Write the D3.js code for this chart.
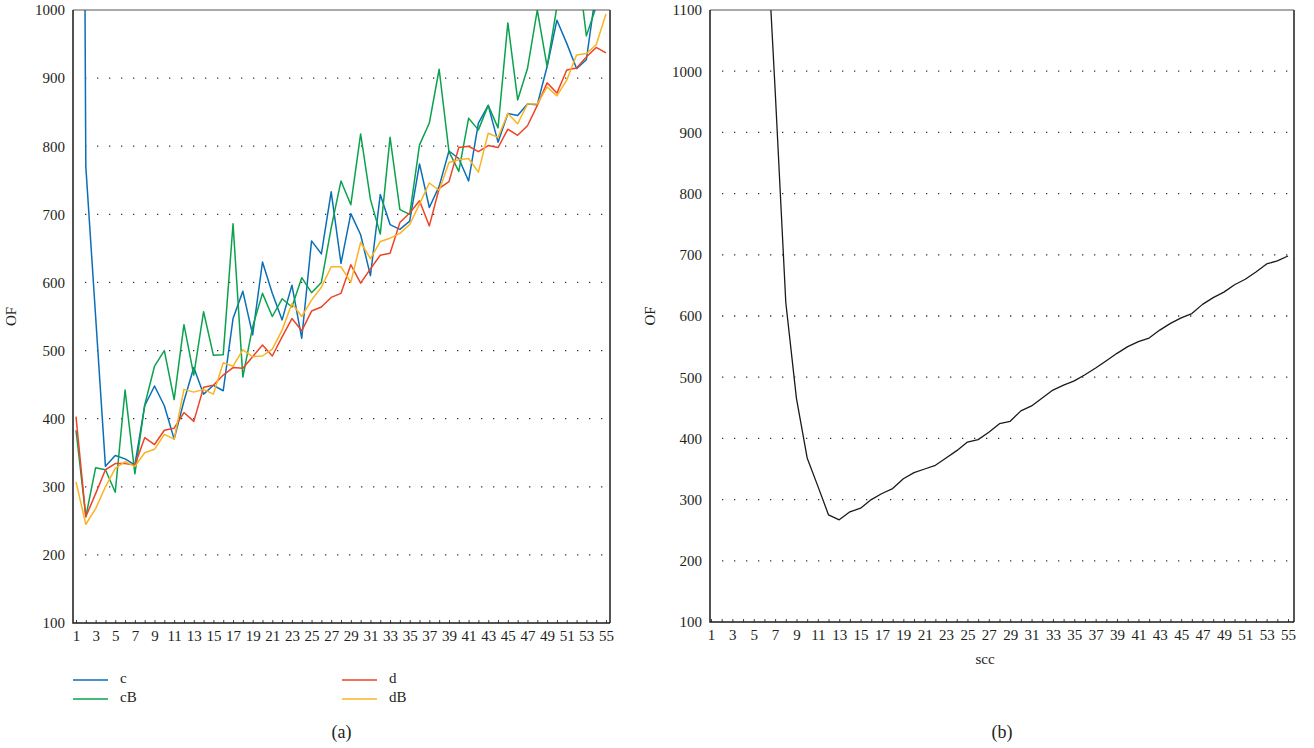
<!DOCTYPE html>
<html>
<head>
<meta charset="utf-8">
<script src="https://cdn.jsdelivr.net/npm/d3@7"></script>
<style>
body { margin: 0; background: #fff; }
text { font-family: "Liberation Serif", "DejaVu Serif", serif; fill: #231f20; }
</style>
</head>
<body>
<svg id="fig" width="1314" height="748"></svg>
<script>
// x categories (scc), shared by both panels
var scc = [1, 2, 3, 4, 5, 6, 7, 8, 9, 10, 11, 12, 13, 14, 15, 16, 17, 18, 19, 20,
	21, 22, 23, 24, 25, 26, 27, 28, 29, 30, 31, 32, 33, 34, 35, 36, 37, 38, 39, 40,
	41, 42, 43, 44, 45, 46, 47, 48, 49, 50, 51, 52, 53, 54, 55]

// panel (a) series, OF values
var c = [3600, 770, 550, 330, 346, 341, 332, 419, 448, 419, 370, 426, 475, 436, 449, 441, 547, 587, 523, 630,
	584, 545, 596, 518, 661, 642, 733, 628, 701, 670, 610, 729, 685, 678, 690, 774, 710, 741, 793, 782,
	749, 834, 860, 806, 848, 845, 862, 861, 917, 985, 951, 914, 927, 1030, 1070]
var cB = [383, 256, 328, 325, 292, 442, 319, 420, 477, 500, 428, 538, 464, 557, 493, 494, 686, 461, 535, 584,
	550, 576, 564, 607, 585, 600, 680, 749, 714, 818, 722, 671, 813, 707, 700, 802, 834, 913, 792, 763,
	841, 824, 860, 827, 981, 868, 914, 1000, 917, 1005, 1040, 1080, 962, 1005, 1040]
var d = [403, 256, 290, 325, 334, 334, 332, 372, 362, 383, 386, 409, 396, 446, 449, 464, 475, 474, 491, 508,
	492, 520, 547, 529, 558, 564, 578, 584, 626, 599, 620, 640, 643, 688, 702, 720, 683, 738, 748, 798,
	800, 792, 801, 798, 825, 816, 830, 860, 893, 878, 912, 915, 931, 945, 937]
var dB = [307, 245, 268, 300, 327, 337, 330, 350, 355, 377, 370, 443, 439, 443, 436, 482, 477, 501, 491, 492,
	502, 530, 569, 550, 574, 593, 623, 623, 600, 659, 635, 660, 665, 672, 685, 715, 746, 735, 776, 780,
	782, 762, 819, 813, 848, 833, 862, 862, 887, 874, 897, 934, 936, 949, 994]

// panel (b) series
var of = [4200, 3300, 2500, 2000, 1600, 1300, 970, 622, 465, 368, 322, 275, 267, 280, 286, 300, 310, 318, 334, 344,
	350, 356, 368, 380, 394, 398, 410, 424, 428, 445, 453, 466, 479, 487, 494, 504, 515, 527, 539, 550,
	558, 564, 577, 588, 597, 604, 619, 630, 639, 651, 660, 672, 685, 690, 698]

var ticksA = [100, 200, 300, 400, 500, 600, 700, 800, 900, 1000]
var ticksB = [100, 200, 300, 400, 500, 600, 700, 800, 900, 1000, 1100]

var seriesA = [
	{name: "c", values: c, color: "#0a6fb8"},
	{name: "cB", values: cB, color: "#0ba24e"},
	{name: "d", values: d, color: "#ee4327"},
	{name: "dB", values: dB, color: "#fbb321"}
]
var seriesB = [{name: "OF", values: of, color: "#1a1a1a"}]

var svg = d3.select("#fig")

svg.append("rect")
.attr("width", 1314)
.attr("height", 748)
.attr("fill", "#fff")

function drawPanel(p) {
	let x = d3.scaleLinear().domain([1, 55]).range(p.xRange)
	let y = d3.scaleLinear().domain([p.yTicks[0], p.yTicks[p.yTicks.length - 1]]).range([p.bottom, p.top])
	let g = svg.append("g")

	g.append("clipPath")
	.attr("id", p.id + "-clip")
	.append("rect")
	.attr("x", p.left)
	.attr("y", p.top)
	.attr("width", p.right - p.left)
	.attr("height", p.bottom - p.top)

	// dotted horizontal grid
	g.append("g")
	.selectAll("line")
	.data(p.yTicks.slice(1, -1))
	.join("line")
	.attr("x1", p.left + 12)
	.attr("x2", p.right - 2)
	.attr("y1", v => y(v))
	.attr("y2", v => y(v))
	.attr("stroke", "#333")
	.attr("stroke-width", 1.3)
	.attr("stroke-dasharray", "1.3 10.7")

	let line = d3.line()
	.x((v, i) => x(scc[i]))
	.y(v => y(v))

	g.append("g")
	.attr("clip-path", "url(#" + p.id + "-clip)")
	.selectAll("path")
	.data(p.series)
	.join("path")
	.attr("d", s => line(s.values))
	.attr("fill", "none")
	.attr("stroke", s => s.color)
	.attr("stroke-width", p.lineWidth)
	.attr("stroke-linejoin", "round")

	// frame
	g.append("line")
	.attr("x1", p.left).attr("x2", p.right)
	.attr("y1", p.top).attr("y2", p.top)
	.attr("stroke", "#555")
	.attr("stroke-width", 1)
	g.append("line")
	.attr("x1", p.right).attr("x2", p.right)
	.attr("y1", p.top).attr("y2", p.bottom)
	.attr("stroke", "#555")
	.attr("stroke-width", 2)

	g.append("g")
	.attr("transform", "translate(0," + p.bottom + ")")
	.call(d3.axisBottom(x).tickValues(scc).tickSize(-3).tickPadding(7).tickFormat(v => v % 2 ? v : ""))
	.attr("font-size", 15)
	.attr("font-family", null)
	.attr("color", "#444")
	.call(a => a.select(".domain").remove())

	g.append("g")
	.attr("transform", "translate(" + p.left + ",0)")
	.call(d3.axisLeft(y).tickValues(p.yTicks).tickSize(0).tickPadding(8).tickFormat(v => v))
	.attr("font-size", 15)
	.attr("font-family", null)
	.call(a => a.select(".domain").remove())

	g.append("path")
	.attr("d", "M" + p.left + "," + p.top + "V" + p.bottom + "H" + p.right)
	.attr("fill", "none")
	.attr("stroke", "#1a1a1a")
	.attr("stroke-width", 1.5)

	g.append("text")
	.attr("transform", "translate(" + p.titleX + "," + ((p.top + p.bottom) / 2) + ") rotate(-90)")
	.attr("text-anchor", "middle")
	.attr("dominant-baseline", "middle")
	.attr("font-size", 15)
	.text("OF")

	g.append("text")
	.attr("x", (p.left + p.right) / 2)
	.attr("y", 734)
	.attr("text-anchor", "middle")
	.attr("dominant-baseline", "middle")
	.attr("font-size", 18)
	.text(p.caption)

	return g
}

drawPanel({
	id: "a", left: 73, right: 610, top: 10, bottom: 623,
	xRange: [76, 606], yTicks: ticksA, series: seriesA,
	lineWidth: 1.5, titleX: 13, caption: "(a)"
})

let gb = drawPanel({
	id: "b", left: 710, right: 1294, top: 10, bottom: 622,
	xRange: [711, 1288], yTicks: ticksB, series: seriesB,
	lineWidth: 1.3, titleX: 652, caption: "(b)"
})

gb.append("text")
.attr("x", 985)
.attr("y", 661)
.attr("text-anchor", "middle")
.attr("dominant-baseline", "middle")
.attr("font-size", 15)
.text("scc")

// legend for panel (a), two columns
let legend = svg.append("g")
.selectAll("g")
.data(seriesA)
.join("g")
.attr("transform", (s, i) => "translate(" + (i < 2 ? 73 : 342) + "," + (i % 2 ? 699 : 680) + ")")

legend.append("line")
.attr("x1", 0)
.attr("x2", 35)
.attr("stroke", s => s.color)
.attr("stroke-width", 1.5)

legend.append("text")
.attr("x", 47)
.attr("dominant-baseline", "middle")
.attr("font-size", 15)
.text(s => s.name)
</script>
</body>
</html>
